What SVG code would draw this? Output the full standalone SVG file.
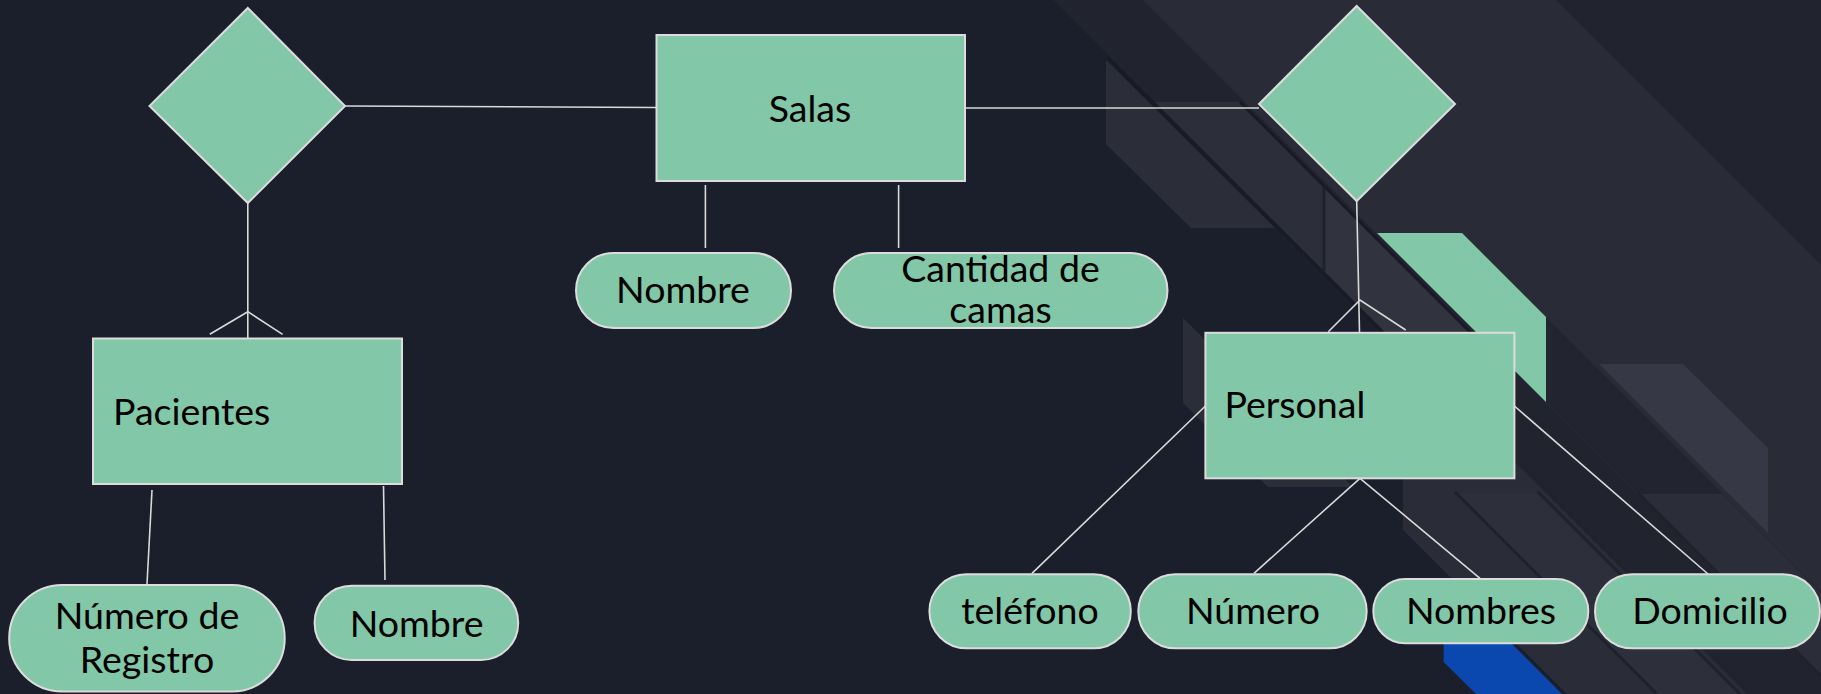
<svg xmlns="http://www.w3.org/2000/svg" width="1821" height="694" viewBox="0 0 1821 694">
<style>
.node{fill:#82c7a7;stroke:#dcdcdc;stroke-width:2}
.lbl{font-family:Lato,"Liberation Sans",sans-serif;font-size:37.5px;fill:#000}
.mid{text-anchor:middle}
.conn line,.conn polyline{stroke:#d9d9d9;stroke-width:1.6;fill:none}
.sh{stroke:#181b25;stroke-width:3;fill:none}
</style>
<g id="background">
<rect x="0" y="0" width="1821" height="694" fill="#1b1f2b"/>
<polygon points="1053,0 1821,0 1821,694 1747,694" fill="#21242e"/>
<polygon points="1143,0 1556,0 1821,265 1821,678" fill="#292c37"/>
<polygon points="1546,317 1821,592 1821,677 1546,402" fill="#22252f"/>
<polygon points="1638,494 1722,494 1821,593 1821,677" fill="#2b2e39"/>
<polygon points="1599,364 1683,364 1768,448 1768,533" fill="#363945"/>
<polygon points="1106,60 1106,144 1191,228 1275,228" fill="#2b2e39"/>
<polygon points="1155,102 1240,102 1325,187 1325,272" fill="#2c2f3a"/>
<polygon points="1325,187 1325,272 1500,447 1500,362" fill="#31343f"/>
<line class="sh" x1="1107" y1="57" x2="1500" y2="450"/>
<line class="sh" x1="1240" y1="102" x2="1500" y2="362" stroke="#1f222c"/>
<line x1="1324" y1="187" x2="1324" y2="272" stroke="#1f222c" stroke-width="3"/>
<polygon points="1183,318 1183,403 1268,487 1353,487" fill="#2b2e39"/>
<polygon points="1403,350 1403,530 1567,694 1747,694" fill="#2a2d38"/>
<polygon points="1455,493 1538,493 1739,694 1656,694" fill="#2d303b"/>
<line x1="1455" y1="492" x2="1656" y2="693" stroke="#1f222c" stroke-width="3"/>
<line x1="1538" y1="492" x2="1740" y2="694" stroke="#1f222c" stroke-width="3"/>
<line x1="1638" y1="493" x2="1821" y2="676" stroke="#1f222c" stroke-width="3"/>
<polygon points="1377,233 1462,233 1546,317 1546,402" fill="#82c7a7"/>
<polygon points="1443.6,600 1468,600 1562,694 1476,694 1443.6,662" fill="#0a47ae"/>
</g>
<g id="connectors" class="conn">
<line x1="345" y1="106" x2="656" y2="107.5"/>
<line x1="965" y1="108" x2="1259" y2="108"/>
<line x1="247.8" y1="203" x2="247.8" y2="338"/>
<polyline points="209.8,334.3 247.8,311.7 282.6,334.3"/>
<line x1="1356.7" y1="201" x2="1359.5" y2="332"/>
<polyline points="1328.3,331.7 1360,300 1405.7,330"/>
<line x1="705.4" y1="185" x2="705.4" y2="248"/>
<line x1="898.6" y1="185" x2="898.6" y2="248"/>
<line x1="152" y1="490" x2="147" y2="584"/>
<line x1="383.5" y1="486" x2="385" y2="580"/>
<line x1="1205.4" y1="406" x2="1032" y2="573.3"/>
<line x1="1360" y1="478.3" x2="1254" y2="573.3"/>
<line x1="1360" y1="478.3" x2="1480" y2="578.3"/>
<line x1="1514.4" y1="406" x2="1708" y2="574"/>
</g>
<g id="rel-left"><polygon class="node" points="247.8,8 345,106 247.8,203 149.5,106"/></g>
<g id="rel-right"><polygon class="node" points="1356.7,6 1455,104 1356.7,201 1259,104"/></g>
<g id="salas"><rect class="node" x="656.5" y="35" width="308.5" height="146"/><text class="lbl mid" x="810" y="122">Salas</text></g>
<g id="salas-nombre"><rect class="node" x="576" y="253" width="215" height="75" rx="37.5"/><text class="lbl mid" x="683" y="303">Nombre</text></g>
<g id="salas-camas"><rect class="node" x="834" y="253" width="333.5" height="75" rx="37.5"/><text class="lbl mid" x="1000.5" y="282">Cantidad de</text><text class="lbl mid" x="1000.5" y="323">camas</text></g>
<g id="pacientes"><rect class="node" x="93" y="338.5" width="309" height="145.5"/><text class="lbl" x="113" y="425">Pacientes</text></g>
<g id="pac-registro"><rect class="node" x="9.2" y="585" width="275.5" height="106.5" rx="53"/><text class="lbl mid" x="147" y="629">Número de</text><text class="lbl mid" x="147" y="673">Registro</text></g>
<g id="pac-nombre"><rect class="node" x="314.6" y="585.7" width="203.6" height="74.3" rx="37"/><text class="lbl mid" x="416.6" y="636.7">Nombre</text></g>
<g id="personal"><rect class="node" x="1205.4" y="332.8" width="309" height="145.5"/><text class="lbl" x="1224.5" y="418.3">Personal</text></g>
<g id="per-telefono"><rect class="node" x="929.4" y="574.3" width="201.4" height="74" rx="37"/><text class="lbl mid" x="1030" y="624">teléfono</text></g>
<g id="per-numero"><rect class="node" x="1138.3" y="574.3" width="228.4" height="74" rx="37"/><text class="lbl mid" x="1253" y="624">Número</text></g>
<g id="per-nombres"><rect class="node" x="1373.3" y="579" width="215" height="64.3" rx="32"/><text class="lbl mid" x="1481" y="624">Nombres</text></g>
<g id="per-domicilio"><rect class="node" x="1595" y="574.3" width="225" height="74" rx="37"/><text class="lbl mid" x="1710" y="624">Domicilio</text></g>
</svg>
